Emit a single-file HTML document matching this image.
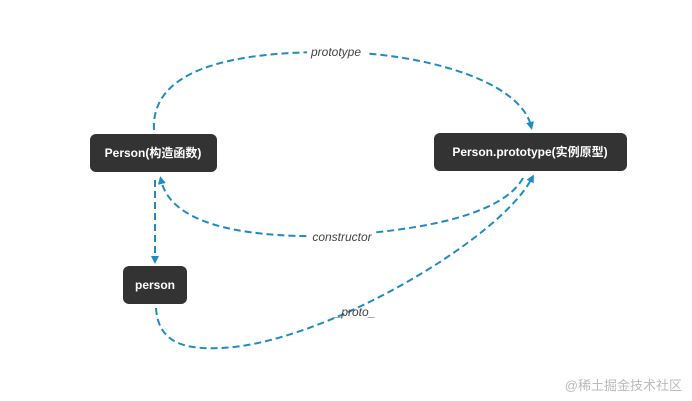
<!DOCTYPE html>
<html><head><meta charset="utf-8"><style>
html,body{margin:0;padding:0;background:#fff;}
svg{display:block}
.b{fill:#333;}
.t{fill:#fff;font-family:"Liberation Sans","Noto Sans CJK SC",sans-serif;font-weight:bold;font-size:12px;text-anchor:middle}
.l{fill:#444;font-family:"Liberation Sans",sans-serif;font-style:italic;font-size:12px;text-anchor:middle}
.p{fill:none;stroke:#1e8bc3;stroke-width:2;stroke-dasharray:7 4}
</style></head><body>
<svg width="692" height="401" viewBox="0 0 692 401">
<defs><marker id="a" markerWidth="8" markerHeight="8" refX="4" refY="4" orient="auto" markerUnits="userSpaceOnUse"><path d="M0,0 L8,4 L0,8 z" fill="#1e8bc3"/></marker></defs>
<path class="p" d="M154,130 C150,60 260,52 330,52 C420,52 520,80 531,126" marker-end="url(#a)"/>
<path class="p" d="M523,178 C500,220 400,232 330,236 C230,238 170,220 161,180" marker-end="url(#a)"/>
<path class="p" d="M155,180 L155,260" marker-end="url(#a)"/>
<path class="p" d="M156,308 C158,340 180,350 220,348 C320,345 500,240 532,178" marker-end="url(#a)"/>
<rect x="307" y="44" width="62" height="14" fill="#fff"/>
<text class="l" x="336" y="56">prototype</text>
<rect x="309" y="229" width="66" height="14" fill="#fff"/>
<text class="l" x="342" y="241">constructor</text>
<text class="l" x="355" y="316">_proto_</text>
<rect class="b" x="90" y="134" width="127" height="38" rx="6"/>
<text class="t" x="153" y="157">Person(构造函数)</text>
<rect class="b" x="434" y="133" width="193" height="38" rx="6"/>
<text class="t" x="530" y="156">Person.prototype(实例原型)</text>
<rect class="b" x="123" y="266" width="64" height="38" rx="6"/>
<text class="t" x="155" y="289">person</text>
<text x="682" y="390" text-anchor="end" font-family="'Liberation Sans','Noto Sans CJK SC',sans-serif" font-size="13" fill="#bbb">@稀土掘金技术社区</text>
</svg>
</body></html>
